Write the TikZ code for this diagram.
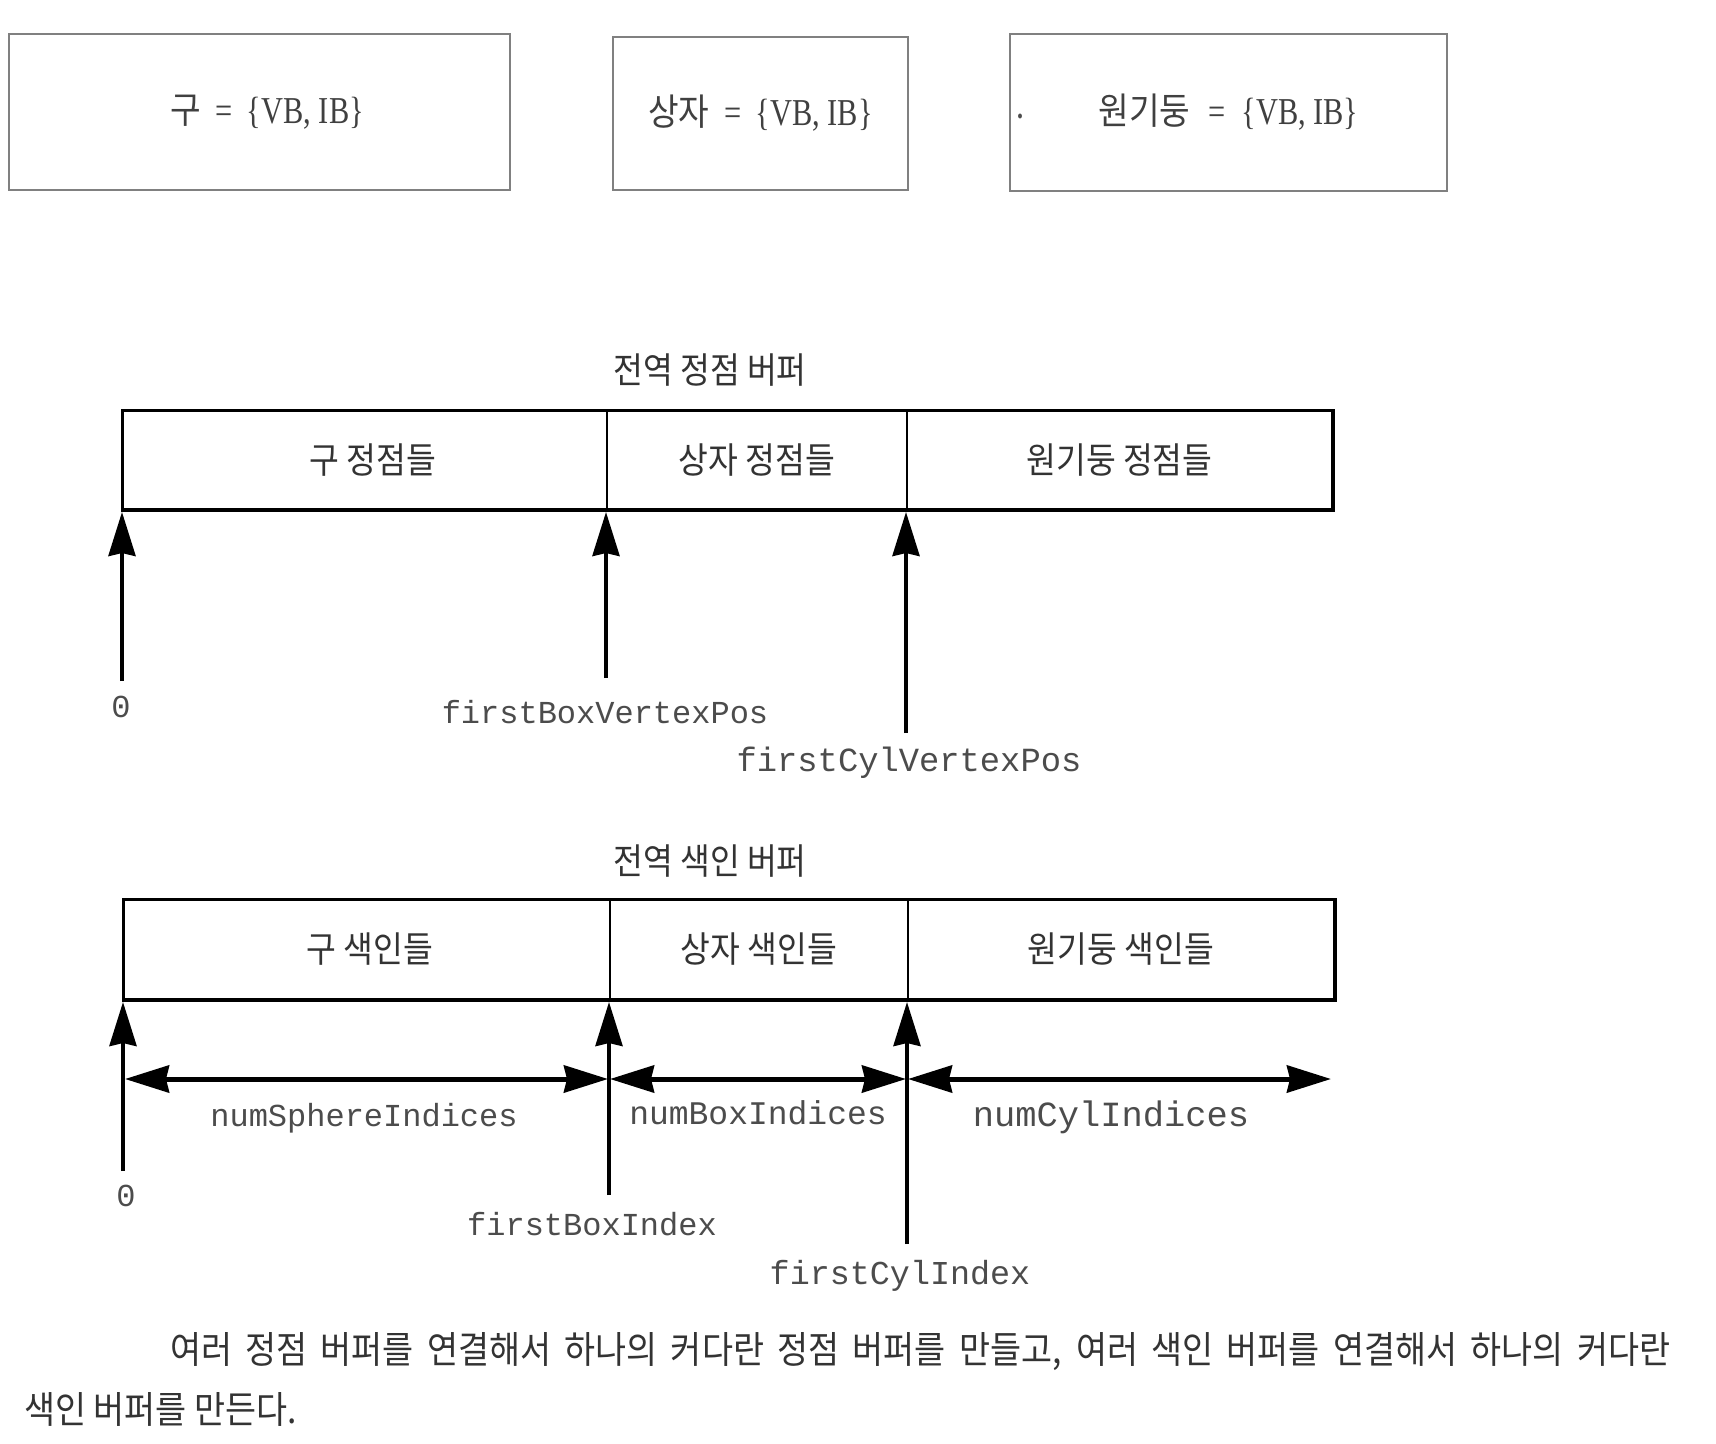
\documentclass[tikz,border=0pt]{standalone}
\usepackage{fontspec}
\setmainfont[FakeStretch=0.8]{Liberation Serif}
\newfontfamily\kr[FakeStretch=0.9]{Noto Sans CJK KR}
\setmonofont{Liberation Mono}
\usetikzlibrary{arrows.meta}
\newcommand{\eqsp}{\hspace{15pt}=\hspace{14pt}}
\newcommand{\topkr}[1]{{\kr\fontsize{37}{42}\selectfont #1}}
\tikzset{
  topbox/.style={draw=black!50, line width=2pt, inner sep=0pt, anchor=north west,
    font=\fontsize{38}{44}\selectfont, text=black!75},
  seg/.style={draw, line width=2pt, inner sep=0pt, anchor=north west,
    font=\kr\fontsize{36}{42}\selectfont, text=black!80},
  title/.style={font=\kr\fontsize{36}{42}\selectfont, text=black!80, inner sep=0pt},
  mono/.style={font=\ttfamily\fontsize{#1}{38}\selectfont, text=black!70, inner sep=0pt},
  mono/.default=32,
  caption/.style={font=\kr\fontsize{37.5}{44}\selectfont, text=black!80, inner sep=0pt, anchor=west},
  tipA/.tip={Stealth[length=44pt,width=27pt,inset=3pt]},
  uparrow/.style={-tipA, line width=4pt, shorten >=2pt},
  dblarrow/.style={tipA-tipA, line width=5pt, shorten >=1pt, shorten <=1pt},
}
\begin{document}
\begin{tikzpicture}[x=1pt,y=-1pt]
\useasboundingbox[fill=white] (0,0) rectangle (1716,1443);

% top boxes
\node[topbox, minimum width=501pt, minimum height=156pt] (sphere) at (8,33) {\hspace{15pt}\topkr{구}\eqsp\{VB, IB\}};
\node[topbox, minimum width=295pt, minimum height=153pt] (box) at (612,36) {\topkr{상자}\eqsp\{VB, IB\}};
\node[topbox, minimum width=437pt, minimum height=157pt] (cyl) at (1009,33) {\topkr{원기둥}\hspace{18pt}=\hspace{16pt}\{VB, IB\}};
\node[font=\bfseries\fontsize{30}{36}\selectfont, text=black!70, inner sep=0pt] (dot) at (1020,116) {.};

% vertex buffer
\node[title] (vtitle) at (710,370) {전역 정점 버퍼};
\node[seg, minimum width=484pt, minimum height=98pt] (vs) at (122,410) {\hspace{16pt}구 정점들};
\node[seg, minimum width=300pt, minimum height=98pt] (vb) at (606,410) {상자 정점들};
\node[seg, minimum width=425pt, minimum height=98pt] (vc) at (906,410) {원기둥 정점들};
\draw[line width=3pt] (vs.north west) rectangle (vc.south east);

\coordinate (t0) at (122,681);
\coordinate (t1) at (606,678);
\coordinate (t2) at (906,733);
\draw[uparrow] (t0) -- (vs.south west);
\draw[uparrow] (t1) -- (vb.south west);
\draw[uparrow] (t2) -- (vc.south west);

\node[mono] (v0) at (121,707) {0};
\node[mono=32] (vfb) at (605,712) {firstBoxVertexPos};
\node[mono=33.8] (vfc) at (909,763) {firstCylVertexPos};

% index buffer
\node[title] (ititle) at (710,861) {전역 색인 버퍼};
\node[seg, minimum width=486pt, minimum height=99pt] (is) at (123,899) {\hspace{6pt}구 색인들};
\node[seg, minimum width=298pt, minimum height=99pt] (ib) at (609,899) {상자 색인들};
\node[seg, minimum width=426pt, minimum height=99pt] (ic) at (907,899) {원기둥 색인들};
\draw[line width=3pt] (is.north west) rectangle (ic.south east);

\coordinate (u0) at (123,1171);
\coordinate (u1) at (609,1195);
\coordinate (u2) at (907,1244);
\draw[uparrow] (u0) -- (is.south west);
\draw[uparrow] (u1) -- (ib.south west);
\draw[uparrow] (u2) -- (ic.south west);

\coordinate (d0) at (124,1079);
\coordinate (d1) at (609,1079);
\coordinate (d2) at (907,1079);
\coordinate (d3) at (1332,1079);
\draw[dblarrow] (d0) -- (d1);
\draw[dblarrow] (d1) -- (d2);
\draw[dblarrow] (d2) -- (d3);

\node[mono=32] (nsi) at (364,1118) {numSphereIndices};
\node[mono=33] (nbi) at (758,1113) {numBoxIndices};
\node[mono=35.4] (nci) at (1111,1117) {numCylIndices};

\node[mono] (i0) at (126,1196) {0};
\node[mono=32] (ifb) at (592,1224) {firstBoxIndex};
\node[mono=33.4] (ifc) at (900,1276) {firstCylIndex};

% caption
\node[caption] (cap1) at (170,1352) {\makebox[1500pt][s]{여러 정점 버퍼를 연결해서 하나의 커다란 정점 버퍼를 만들고, 여러 색인 버퍼를 연결해서 하나의 커다란}};
\node[caption] (cap2) at (24,1409) {색인 버퍼를 만든다.};
\end{tikzpicture}
\end{document}
